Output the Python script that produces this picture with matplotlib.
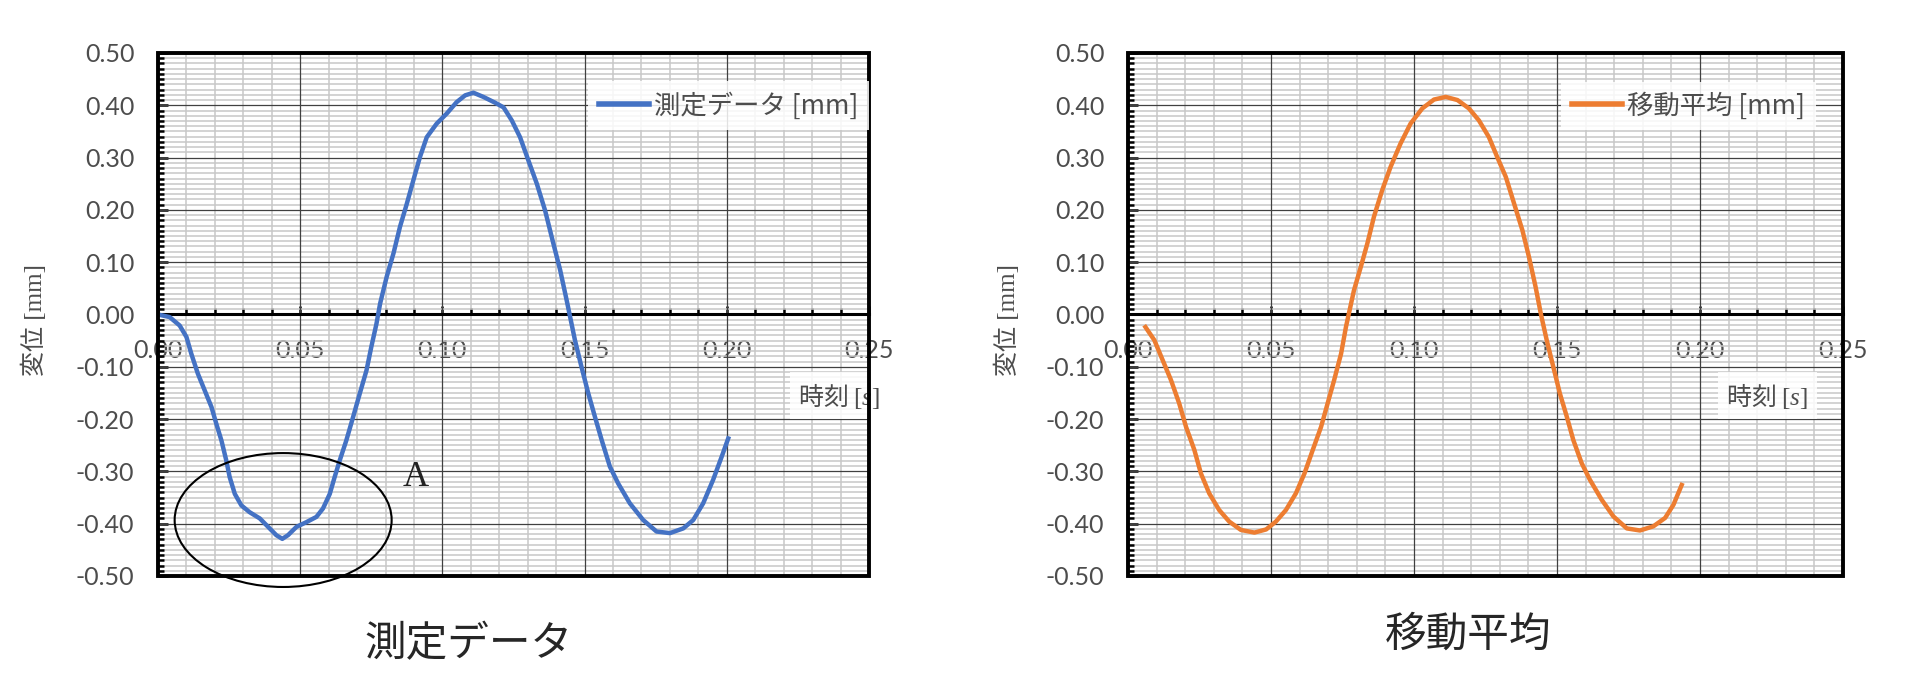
import numpy as np
import matplotlib
matplotlib.use("Agg")
import matplotlib.pyplot as plt
from matplotlib.ticker import MultipleLocator, FormatStrFormatter
from matplotlib.patches import Ellipse, Rectangle

plt.rcParams['font.family'] = ['Lato', 'Noto Sans CJK JP', 'DejaVu Sans']
plt.rcParams['mathtext.fontset'] = 'custom'
plt.rcParams['mathtext.rm'] = 'Liberation Serif'
plt.rcParams['mathtext.it'] = 'Liberation Serif:italic'

# data
# measured data: time [s], displacement [mm]
t_meas = [0.0, 0.0041, 0.0076, 0.010, 0.0117, 0.014, 0.0164, 0.0188, 0.0205, 0.0223,
          0.024, 0.0252, 0.027, 0.0293, 0.0322, 0.0358, 0.0387, 0.0416, 0.0437, 0.0457,
          0.0487, 0.0522, 0.0557, 0.058, 0.0604, 0.0621, 0.0639, 0.0662, 0.0686, 0.0709,
          0.0733, 0.075, 0.0768, 0.0781, 0.0804, 0.0828, 0.0851, 0.0875, 0.0898, 0.0921,
          0.0945, 0.098, 0.1015, 0.105, 0.108, 0.1109, 0.1144, 0.1185, 0.1215, 0.1244,
          0.1273, 0.1302, 0.1332, 0.1361, 0.139, 0.1414, 0.1437, 0.1466, 0.1489, 0.1513,
          0.1536, 0.156, 0.1589, 0.1618, 0.1659, 0.1706, 0.1753, 0.18, 0.1847, 0.1882,
          0.1917, 0.1952, 0.1982, 0.2005]
d_meas = [0.0, -0.005, -0.021, -0.043, -0.075, -0.113, -0.145, -0.177, -0.209, -0.241,
          -0.279, -0.311, -0.343, -0.365, -0.378, -0.390, -0.406, -0.422, -0.429, -0.422,
          -0.406, -0.397, -0.387, -0.371, -0.343, -0.311, -0.279, -0.241, -0.196, -0.152,
          -0.107, -0.062, -0.018, 0.021, 0.072, 0.117, 0.168, 0.212, 0.257, 0.301,
          0.339, 0.365, 0.384, 0.406, 0.419, 0.424, 0.416, 0.405, 0.396, 0.371,
          0.339, 0.295, 0.250, 0.199, 0.136, 0.085, 0.027, -0.049, -0.100, -0.151,
          -0.195, -0.240, -0.291, -0.323, -0.361, -0.393, -0.415, -0.418, -0.409, -0.393,
          -0.361, -0.316, -0.272, -0.237]

# moving average: time [s], displacement [mm]
t_avg = [0.0061, 0.0092, 0.0121, 0.015, 0.0179, 0.0203, 0.0232, 0.0255, 0.0284, 0.0319,
         0.0354, 0.0395, 0.0442, 0.0483, 0.0517, 0.0552, 0.0587, 0.0617, 0.0646, 0.0675,
         0.0698, 0.0721, 0.0745, 0.0762, 0.0790, 0.0814, 0.0837, 0.086, 0.0889, 0.0918,
         0.0953, 0.0988, 0.1029, 0.107, 0.1111, 0.1152, 0.1192, 0.1227, 0.1262, 0.1291,
         0.1321, 0.135, 0.1379, 0.1402, 0.1425, 0.1444, 0.1464, 0.1487, 0.151, 0.1534,
         0.1557, 0.1586, 0.1615, 0.1656, 0.1697, 0.1744, 0.179, 0.1837, 0.1878, 0.1907,
         0.1936]
d_avg = [-0.024, -0.049, -0.087, -0.125, -0.170, -0.215, -0.259, -0.304, -0.342, -0.374,
         -0.396, -0.412, -0.417, -0.411, -0.396, -0.374, -0.342, -0.304, -0.259, -0.215,
         -0.170, -0.125, -0.075, -0.024, 0.046, 0.091, 0.136, 0.187, 0.238, 0.282,
         0.327, 0.365, 0.394, 0.411, 0.416, 0.410, 0.394, 0.371, 0.339, 0.301,
         0.263, 0.212, 0.161, 0.110, 0.053, 0.0, -0.049, -0.100, -0.151, -0.195,
         -0.240, -0.284, -0.316, -0.354, -0.386, -0.409, -0.413, -0.405, -0.389, -0.364,
         -0.326]

# circled region "A"
circle_center = (0.044, -0.393)
circle_w, circle_h = 0.0763, 0.256
label_a_pos = (0.0907, -0.311)

grey = '#4d4d4d'


def setup_axes(ax):
    ax.set_xlim(0, 0.25)
    ax.set_ylim(-0.5, 0.5)
    ax.xaxis.set_major_locator(MultipleLocator(0.05))
    ax.xaxis.set_minor_locator(MultipleLocator(0.01))
    ax.yaxis.set_major_locator(MultipleLocator(0.1))
    ax.yaxis.set_minor_locator(MultipleLocator(0.01))
    ax.xaxis.set_major_formatter(FormatStrFormatter('%.2f'))
    ax.yaxis.set_major_formatter(FormatStrFormatter('%.2f'))
    # minor grid from the axis, major grid drawn on top so it stays solid
    ax.grid(which='minor', color='#c8c8c8', lw=1.1)
    ax.set_axisbelow(True)
    for xv in ax.get_xticks():
        ax.axvline(xv, color='#404040', lw=0.9, zorder=0.8)
    for yv in ax.get_yticks():
        ax.axhline(yv, color='#404040', lw=0.9, zorder=0.8)

    ax.spines['bottom'].set_position(('data', 0))
    for s in ['top', 'right', 'left']:
        ax.spines[s].set_visible(False)
    ax.spines['bottom'].set_linewidth(2.2)
    ax.add_patch(Rectangle((0, 0), 1, 1, transform=ax.transAxes, fill=False,
                           lw=2.8, ec='black', clip_on=False, zorder=5))

    ax.tick_params(axis='x', which='major', direction='in', length=6, width=1.8,
                   pad=18, labelsize=18, labelcolor=grey)
    ax.tick_params(axis='x', which='minor', direction='in', length=4, width=1.8)
    ax.tick_params(axis='y', which='major', direction='in', length=7, width=1.8,
                   pad=17, labelsize=18, labelcolor=grey)
    ax.tick_params(axis='y', which='minor', direction='in', length=4, width=1.8)

    ax.set_ylabel('変位 [mm]', fontsize=18, color=grey,
                  family=['Liberation Serif', 'Noto Sans CJK JP'])


fig = plt.figure(figsize=(19.2, 6.98), dpi=100)
ax1 = fig.add_axes([0.0823, 0.1748, 0.3703, 0.7493])
ax2 = fig.add_axes([0.5875, 0.1748, 0.3724, 0.7493])

setup_axes(ax1)
setup_axes(ax2)
ax1.yaxis.set_label_coords(-0.156, 0.49)
ax2.yaxis.set_label_coords(-0.151, 0.49)

ax1.plot(t_meas, d_meas, color='#4472C4', lw=3.2, label='測定データ [mm]', zorder=3,
         solid_joinstyle='round')
ax2.plot(t_avg, d_avg, color='#ED7D31', lw=3.2, label='移動平均 [mm]', zorder=3,
         solid_joinstyle='round')

for ax, xa in [(ax1, 1.0), (ax2, 0.962)]:
    leg = ax.legend(loc='center right', bbox_to_anchor=(xa, 0.899),
                    handlelength=1.9, handletextpad=0.2, borderaxespad=0,
                    borderpad=0.4, frameon=True, fancybox=False,
                    prop={'family': 'Noto Sans CJK JP', 'size': 19})
    leg.get_frame().set_edgecolor('none')
    leg.get_frame().set_alpha(0.85)
    for line in leg.get_lines():
        line.set_linewidth(4)
    for txt in leg.get_texts():
        txt.set_color(grey)

for ax, xp in [(ax1, 0.958), (ax2, 0.894)]:
    ax.text(xp, 0.345, '時刻 $[s]$', transform=ax.transAxes, ha='center', va='center',
            fontsize=18, color=grey, family='Noto Sans CJK JP',
            bbox=dict(facecolor='white', edgecolor='none', alpha=0.85, pad=6))

ax1.add_patch(Ellipse(circle_center, circle_w, circle_h, fill=False, ec='black',
                      lw=1.5, clip_on=False, zorder=4))
ax1.text(label_a_pos[0], label_a_pos[1], 'A', ha='center', va='center',
         fontsize=26, family='Liberation Serif', color='#222222')

fig.text(0.2438, 0.076, '測定データ', ha='center', va='center', fontsize=30,
         family='Noto Sans CJK JP', color='#262626')
fig.text(0.7646, 0.090, '移動平均', ha='center', va='center', fontsize=30,
         family='Noto Sans CJK JP', color='#262626')

fig.savefig('out.png', dpi=100)
